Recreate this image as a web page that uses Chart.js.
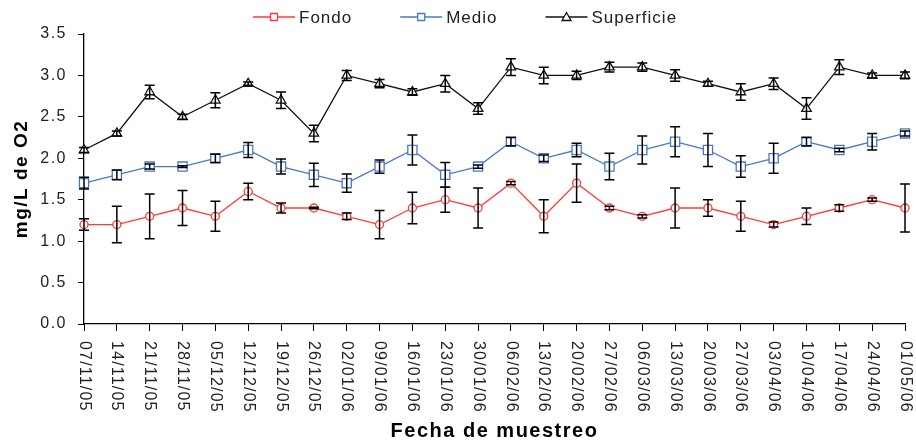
<!DOCTYPE html>
<html>
<head>
<meta charset="utf-8">
<script src="https://cdn.jsdelivr.net/npm/chart.js@4/dist/chart.umd.min.js"></script>
<style>
  html, body { margin: 0; padding: 0; background: #fff; }
  #wrap { width: 916px; height: 447px; position: relative; }
</style>
</head>
<body>
<div id="wrap"><canvas id="chart"></canvas></div>
<script>
// fechas de muestreo
const fechas = ['07/11/05', '14/11/05', '21/11/05', '28/11/05', '05/12/05', '12/12/05', '19/12/05',
    '26/12/05', '02/01/06', '09/01/06', '16/01/06', '23/01/06', '30/01/06', '06/02/06', '13/02/06',
    '20/02/06', '27/02/06', '06/03/06', '13/03/06', '20/03/06', '27/03/06', '03/04/06', '10/04/06',
    '17/04/06', '24/04/06', '01/05/06'];

const fondo = [1.2, 1.2, 1.3, 1.4, 1.3, 1.6, 1.4, 1.4, 1.3, 1.2, 1.4, 1.5, 1.4, 1.7, 1.3, 1.7, 1.4, 1.3, 1.4, 1.4, 1.3, 1.2, 1.3, 1.4, 1.5, 1.4];
const fondoErr = [0.07, 0.22, 0.27, 0.21, 0.18, 0.1, 0.06, 0.01, 0.04, 0.17, 0.19, 0.15, 0.24, 0.02, 0.2, 0.23, 0.02, 0.02, 0.24, 0.1, 0.18, 0.03, 0.1, 0.04, 0.02, 0.29];

const medio = [1.7, 1.8, 1.9, 1.9, 2.0, 2.1, 1.9, 1.8, 1.7, 1.9, 2.1, 1.8, 1.9, 2.2, 2.0, 2.1, 1.9, 2.1, 2.2, 2.1, 1.9, 2.0, 2.2, 2.1, 2.2, 2.3];
const medioErr = [0.07, 0.06, 0.03, 0.01, 0.05, 0.09, 0.09, 0.14, 0.11, 0.08, 0.18, 0.15, 0.02, 0.05, 0.04, 0.08, 0.16, 0.17, 0.18, 0.2, 0.13, 0.18, 0.05, 0.02, 0.1, 0.03];

const superficie = [2.1, 2.3, 2.8, 2.5, 2.7, 2.9, 2.7, 2.3, 3.0, 2.9, 2.8, 2.9, 2.6, 3.1, 3.0, 3.0, 3.1, 3.1, 3.0, 2.9, 2.8, 2.9, 2.6, 3.1, 3.0, 3.0];
const superficieErr = [0.03, 0.03, 0.08, 0.03, 0.09, 0.02, 0.1, 0.1, 0.06, 0.05, 0.04, 0.1, 0.07, 0.1, 0.1, 0.05, 0.06, 0.05, 0.07, 0.03, 0.1, 0.07, 0.13, 0.09, 0.03, 0.04];

const COLORS = { fondo: '#ff3a3a', medio: '#4a78c4', sup: '#111111', text: '#222222' };
const FONT = 'Liberation Sans, Arial, sans-serif';

const errorBars = {
    id: 'errorBars',
    afterDatasetsDraw(chart) {
        const { ctx, scales: { y } } = chart;
        ctx.save();
        ctx.strokeStyle = '#000';
        ctx.lineWidth = 1.5;
        chart.data.datasets.forEach((ds, i) => {
            const meta = chart.getDatasetMeta(i);
            meta.data.forEach((pt, j) => {
                const e = ds.errors[j];
                const top = y.getPixelForValue(ds.data[j] + e);
                const bot = y.getPixelForValue(ds.data[j] - e);
                ctx.beginPath();
                ctx.moveTo(pt.x, top); ctx.lineTo(pt.x, bot);
                ctx.moveTo(pt.x - 5, top); ctx.lineTo(pt.x + 5, top);
                ctx.moveTo(pt.x - 5, bot); ctx.lineTo(pt.x + 5, bot);
                ctx.stroke();
            });
        });
        ctx.restore();
    }
};

// x labels rotated clockwise, reading downward from the tick
const xLabels = {
    id: 'xLabels',
    afterDraw(chart) {
        const { ctx, scales: { x } } = chart;
        ctx.save();
        ctx.letterSpacing = '1.2px';
        ctx.fillStyle = COLORS.text;
        ctx.font = '16px ' + FONT;
        ctx.textAlign = 'left';
        ctx.textBaseline = 'middle';
        x.ticks.forEach((t, i) => {
            const px = x.getPixelForTick(i);
            ctx.save();
            ctx.translate(px, x.top + 17);
            ctx.rotate(Math.PI / 2);
            ctx.fillText(fechas[i], 0, 0);
            ctx.restore();
        });
        ctx.restore();
    }
};

// legend drawn as line + small hollow marker, like the original
const legendLine = {
    id: 'legendLine',
    afterDraw(chart) {
        const ctx = chart.ctx;
        const styles = ['rect', 'rect', 'triangle'];
        const cy = 17;
        let x = 253;
        ctx.save();
        ctx.letterSpacing = '1px';
        ctx.font = '17px ' + FONT;
        ctx.textBaseline = 'middle';
        ctx.textAlign = 'left';
        chart.data.datasets.forEach((ds, i) => {
            const c = ds.borderColor;
            ctx.strokeStyle = c; ctx.lineWidth = 1.3;
            ctx.beginPath(); ctx.moveTo(x, cy); ctx.lineTo(x + 42, cy); ctx.stroke();
            const mx = x + 21;
            ctx.fillStyle = '#fff';
            ctx.beginPath();
            if (styles[i] === 'rect') ctx.rect(mx - 3.5, cy - 3.5, 7, 7);
            else { ctx.moveTo(mx, cy - 4.5); ctx.lineTo(mx + 4.5, cy + 3.5); ctx.lineTo(mx - 4.5, cy + 3.5); ctx.closePath(); }
            ctx.fill(); ctx.stroke();
            ctx.fillStyle = COLORS.text;
            ctx.fillText(ds.label, x + 46, cy + 1);
            x += 46 + ctx.measureText(ds.label).width + 48;
        });
        ctx.restore();
    }
};

const spacing = {
    id: 'spacing',
    beforeUpdate(chart) { chart.ctx.letterSpacing = '1.5px'; },
    beforeDraw(chart) { chart.ctx.letterSpacing = '1.5px'; }
};

function line(label, data, errors, color, style, radius) {
    return {
        label, data, errors,
        borderColor: color,
        borderWidth: 1.3,
        backgroundColor: '#fff',
        pointStyle: style,
        pointRadius: radius,
        pointBorderColor: color,
        pointBackgroundColor: '#fff',
        pointBorderWidth: 1.3,
        tension: 0,
    };
}

new Chart(document.getElementById('chart'), {
    type: 'line',
    data: {
        labels: fechas,
        datasets: [
            line('Fondo', fondo, fondoErr, COLORS.fondo, 'circle', 4),
            line('Medio', medio, medioErr, COLORS.medio, 'rect', 6.5),
            line('Superficie', superficie, superficieErr, COLORS.sup, 'triangle', 5.5),
        ],
    },
    options: {
        responsive: true,
        maintainAspectRatio: false,
        animation: false,
        layout: { padding: { top: 34, right: 11, left: 0, bottom: 0 } },
        plugins: {
            tooltip: { enabled: false },
            legend: { display: false },
        },
        scales: {
            x: {
                type: 'category',
                offset: false,
                ticks: { display: false },
                grid: { drawOnChartArea: false, drawTicks: true, tickLength: 7, color: '#000' },
                border: { color: '#000', width: 1.3 },
                title: {
                    display: true,
                    text: 'Fecha de muestreo',
                    color: '#000',
                    font: { family: FONT, size: 20, weight: 'bold' },
                    padding: { top: 0, bottom: 4 },
                },
                afterFit: s => { s.height = 123; },
            },
            y: {
                min: 0, max: 3.5,
                ticks: {
                    stepSize: 0.5,
                    color: COLORS.text,
                    font: { family: FONT, size: 16 },
                    padding: 11,
                    callback: v => v.toFixed(1),
                },
                grid: { drawOnChartArea: false, drawTicks: true, tickLength: 6, color: '#000' },
                border: { color: '#000', width: 1.3 },
                title: {
                    display: true,
                    text: 'mg/L de O2',
                    color: '#000',
                    font: { family: FONT, size: 19, weight: 'bold' },
                    padding: { top: 10, bottom: 0 },
                },
                afterFit: s => { s.width = 84; },
            },
        },
    },
    plugins: [spacing, errorBars, xLabels, legendLine],
});
</script>
</body>
</html>
